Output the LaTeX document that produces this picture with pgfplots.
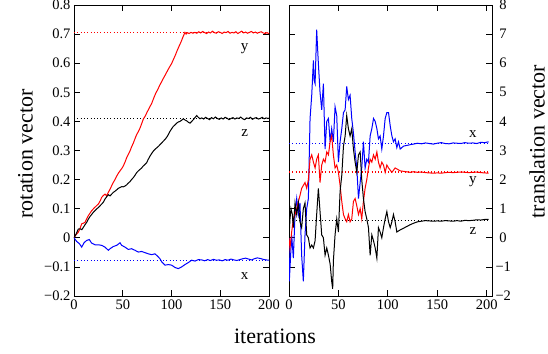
\documentclass[border=0pt]{standalone}
\usepackage{fontspec}
\setmainfont{Liberation Serif}
\usepackage{pgfplots}
\pgfplotsset{compat=1.18}
\begin{document}
\begin{tikzpicture}
\pgfplotsset{
  every axis/.append style={
    scale only axis, height=291pt,
    tick align=inside, major tick length=6pt,
    axis line style={line width=0.75pt},
    every tick/.style={line width=0.75pt, black},
    tick label style={font=\fontsize{14.5}{14.5}\selectfont},
    label style={font=\fontsize{22}{22}\selectfont},
    xtick={0,50,100,150,200},
    xtick pos=both, ytick pos=both,
    /pgf/number format/assume math mode=true,
  },
  curve/.style={line width=1pt},
  ref/.style={line width=1.1pt, dash pattern=on 1pt off 2.3pt},
}
% ---------------- left axis ----------------
\begin{axis}[at={(0,0)}, anchor=south west, width=195pt,
  xmin=0, xmax=200, ymin=-0.2, ymax=0.8,
  ytick={-0.2,-0.1,0,0.1,0.2,0.3,0.4,0.5,0.6,0.7,0.8},
  yticklabels={−0.2,−0.1,0,0.1,0.2,0.3,0.4,0.5,0.6,0.7,0.8},
  xticklabel pos=left, yticklabel pos=left,
  ylabel={rotation vector},
  ylabel style={at={(axis description cs:-0.249,0.488)}, anchor=center},
  xlabel={iterations},
  xlabel style={at={(axis description cs:1.031,-0.137)}, anchor=center},
]
\addplot[ref, red] coordinates {(0,0.706) (200,0.706)};
\addplot[ref, black] coordinates {(0,0.411) (200,0.411)};
\addplot[ref, blue] coordinates {(0,-0.077) (200,-0.077)};
% y (red)
\addplot[curve, red] coordinates {
(0,0) (2,0.01) (4.4,0.019) (6,0.03) (7.9,0.048) (9.5,0.05) (11.3,0.053) (13,0.065) (14.7,0.076) (16.5,0.085) (18.1,0.093) (20,0.1) (21.5,0.105) (23,0.11) (25,0.116) (27,0.128) (28.4,0.139) (30,0.145) (31.8,0.15) (33.5,0.144) (35,0.155) (37,0.167) (38.5,0.178) (40.3,0.19) (42,0.2) (43.8,0.212) (45.5,0.222) (47.2,0.23) (49,0.238) (50.6,0.247) (52.3,0.26) (54,0.275) (55.7,0.287) (57.4,0.298) (59,0.312) (60.9,0.326) (62.5,0.34) (64.3,0.355) (66,0.365) (67.7,0.377) (69.5,0.393) (71.1,0.408) (73,0.418) (75,0.432) (77,0.445) (79.7,0.462) (82,0.482) (84,0.498) (86,0.51) (88,0.525) (90,0.537) (92,0.55) (94,0.562) (96,0.575) (98,0.587) (100,0.598) (102,0.613) (104,0.628) (106,0.645) (108,0.66) (110,0.675) (112,0.692) (113.8,0.706) (115,0.7) (116.5,0.705) (118,0.702) (120,0.706) (122,0.703)
(124,0.706) (126,0.703) (128,0.708) (130,0.704) (132,0.709) (134,0.705) (136,0.702) (138,0.707) (140,0.704) (142,0.71) (144,0.705) (146,0.703) (148,0.708) (150,0.706) (152,0.702) (154,0.707) (156,0.705) (158,0.709) (160,0.703) (162,0.706) (164,0.704) (166,0.708) (168,0.702) (170,0.706) (172,0.71) (174,0.704) (176,0.707) (178,0.703) (180,0.706) (182,0.709) (184,0.704) (186,0.707) (188,0.703) (190,0.706) (192,0.708) (194,0.704) (196,0.702) (198,0.705) (200,0.701)
};
% z (black)
\addplot[curve, black] coordinates {
(0,0) (2,0.012) (4.4,0.03) (6.2,0.031) (8,0.028) (9.6,0.036) (11.3,0.045) (13,0.053) (14.7,0.064) (16.4,0.073) (18.1,0.08) (19.8,0.0875) (21.5,0.093) (23.2,0.099) (25,0.104) (26.7,0.11) (28.4,0.116) (30,0.122) (31.8,0.133) (33.5,0.141) (35.2,0.148) (37,0.144) (38.6,0.15) (40.3,0.156) (42,0.16) (43.8,0.165) (45.5,0.17) (47.2,0.173) (49,0.176) (50.6,0.175) (52.3,0.178) (54,0.182) (55.7,0.188) (57.4,0.193) (59,0.2) (60.9,0.207) (62.6,0.215) (64.3,0.224) (66,0.23) (67.7,0.235) (69.4,0.24) (71.1,0.247) (72.8,0.252) (74.5,0.258) (76.2,0.27) (78,0.281) (79.7,0.29) (81.4,0.298) (83.1,0.304) (84.8,0.309) (86.5,0.314) (88.2,0.32) (89.9,0.326) (91.6,0.332) (93.3,0.338) (95,0.345) (96.8,0.355) (98.5,0.366) (100.2,0.375) (101.9,0.383) (103.6,0.388) (105.3,0.394) (107,0.398) (108.7,0.4) (110.4,0.404) (112.1,0.409) (113.8,0.405) (115.6,0.402) (117.3,0.397) (119,0.394) (120.7,0.4) (122.4,0.406) (124.1,0.413) (125.8,0.42) (127.5,0.414) (129.2,0.409)
(131,0.412) (133,0.408) (135,0.414) (137,0.41) (139,0.406) (141,0.413) (143,0.409) (145,0.415) (147,0.41) (149,0.407) (151,0.412) (153,0.408) (155,0.414) (157,0.411) (159,0.406) (161,0.41) (163,0.413) (165,0.408) (167,0.412) (169,0.41) (171,0.415) (173,0.409) (175,0.406) (177,0.412) (179,0.41) (181,0.414) (183,0.407) (185,0.411) (187,0.413) (189,0.408) (191,0.41) (193,0.414) (195,0.409) (197,0.412) (199,0.41) (200,0.411)
};
% x (blue)
\addplot[curve, blue] coordinates {
(0,0) (2.7,-0.0125) (5.5,-0.02) (7.9,-0.032) (10.3,-0.017) (13,-0.009) (15.7,-0.006) (18,-0.018) (21.5,-0.024) (25,-0.024) (28.4,-0.026) (31.8,-0.032) (35.2,-0.043) (37,-0.0375) (40.3,-0.03) (43.8,-0.026) (47.2,-0.017) (48.9,-0.026) (52.3,-0.032) (55.7,-0.04) (59.1,-0.0375) (62.6,-0.043) (66,-0.049) (69.4,-0.047) (72.8,-0.051) (76.2,-0.055) (79.7,-0.058) (83,-0.055) (85.5,-0.0625) (88.2,-0.072) (90,-0.083) (93.3,-0.094) (96.8,-0.092) (100.2,-0.094) (103.6,-0.102) (107,-0.106) (110.4,-0.1) (113.8,-0.092) (117.3,-0.085) (120.7,-0.077) (124.1,-0.08) (127.5,-0.075)
(131,-0.076) (134,-0.079) (137,-0.075) (140,-0.078) (143,-0.074) (146,-0.077) (149,-0.076) (152,-0.079) (155,-0.075) (158,-0.077) (161,-0.073) (164,-0.076) (167,-0.078) (170,-0.075) (173,-0.072) (176,-0.07) (179,-0.073) (182,-0.076) (185,-0.072) (188,-0.069) (191,-0.071) (194,-0.074) (197,-0.076) (200,-0.077)
};
\node[font=\fontsize{15}{15}\selectfont] at (axis cs:175,0.649) {y};
\node[font=\fontsize{15}{15}\selectfont] at (axis cs:175,0.36) {z};
\node[font=\fontsize{15}{15}\selectfont] at (axis cs:175,-0.131) {x};
\end{axis}
% ---------------- right axis ----------------
\begin{axis}[at={(215pt,0)}, anchor=south west, width=203pt,
  xmin=0, xmax=205.4, ymin=-2, ymax=8,
  ytick={-2,-1,0,1,2,3,4,5,6,7,8},
  yticklabels={−2,−1,0,1,2,3,4,5,6,7,8},
  xticklabel pos=left, yticklabel pos=right,
  yticklabel style={text width=1.1em, align=right},
  ylabel={translation vector},
  ylabel style={at={(axis description cs:1.222,0.531)}, anchor=center, rotate=0},
]
\addplot[ref, blue] coordinates {(0,3.23) (202,3.23)};
\addplot[ref, red] coordinates {(0,2.26) (202,2.26)};
\addplot[ref, black] coordinates {(0,0.6) (202,0.6)};
% x (blue)
\addplot[curve, blue] coordinates {
(0,0) (0.3,-1.5) (2.7,0.1) (4.4,-0.7) (6.1,0.8) (7.8,1.35) (9.5,0.8) (11.1,1.2) (12.8,-0.6) (14.5,-1.5) (16.2,0.1) (17.9,1.0) (19.6,1.35) (21.3,4.1) (23,4.9) (24.7,6.1) (25.5,5.4) (26.4,5.3) (28,7.15) (29.7,6.0) (31.4,5.0) (33.1,4.4) (34.8,5.3) (36.5,3.05) (38.2,4.0) (39.9,4.1) (41.6,3.3) (43.2,3.75) (44.9,3.3) (46.6,4.5) (48.3,4.2) (50,2.6) (51.7,3.3) (53.4,3.75) (55.1,4.3) (56.8,4.4) (58.4,5.2) (60.1,4.75) (61.8,4.9) (63.5,4.1) (65.2,3.6) (66.9,2.95) (68.6,2.4) (70.3,1.35) (72,1.9) (73.6,2.4) (75.3,3.3) (77,2.4) (78.7,2.7) (80.4,2.6) (82.1,3.5) (83.8,3.75) (85.5,4.1) (87.2,4.0) (88.9,3.75) (90.5,3.4) (92.2,3.5) (93.9,3.05) (95.6,3.5) (97.3,4.1) (99,4.3) (100.7,4.3) (102.4,3.85) (104.1,3.5) (105.7,3.3) (107.4,3.4) (109.1,3.1) (110.8,3.3) (112.5,3.05) (115.9,3.15) (122.6,3.2)
(126,3.22) (130,3.25) (134,3.23) (138,3.26) (142,3.24) (146,3.22) (150,3.25) (154,3.27) (158,3.24) (162,3.23) (166,3.26) (170,3.25) (174,3.24) (178,3.27) (182,3.25) (186,3.26) (190,3.24) (194,3.28) (198,3.27) (202,3.3)
};
% y (red)
\addplot[curve, red] coordinates {
(0,0) (1,-0.35) (2.7,0.2) (4.4,0.65) (6.1,0.8) (7.8,1.0) (9.5,1.25) (11.1,1.45) (12.8,1.7) (14.5,1.8) (16.2,1.9) (17.9,1.7) (19.6,2.0) (21.3,2.7) (23,2.85) (24.7,2.6) (26.4,2.4) (28,2.7) (29.7,2.85) (31.4,1.9) (33.1,2.5) (34.8,2.7) (36.5,2.6) (38.2,2.95) (39.9,2.85) (41.6,3.3) (43.2,3.5) (44.9,2.85) (46.6,2.4) (48.3,2.5) (50,2.25) (51.7,1.8) (53.4,1.25) (55.1,0.8) (56.8,0.65) (58.4,0.55) (60.1,0.8) (61.8,0.55) (63.5,0.65) (65.2,1.25) (66.9,1.35) (68.6,1.1) (70.3,0.8) (72,1.0) (73.6,0.65) (75.3,1.25) (77,1.7) (78.7,2.0) (80.4,2.4) (82.1,2.7) (83.8,2.6) (85.5,2.85) (87.2,2.7) (88.9,2.95) (90.5,2.6) (92.2,2.4) (93.9,2.6) (95.6,2.5) (97.3,2.25) (99,2.5) (100.7,2.4) (104.1,2.25) (107.4,2.4) (112.5,2.3) (122.6,2.25)
(126,2.27) (130,2.25) (134,2.26) (138,2.24) (142,2.23) (146,2.22) (150,2.23) (154,2.22) (158,2.24) (162,2.25) (166,2.24) (170,2.25) (174,2.26) (178,2.25) (182,2.24) (186,2.25) (190,2.26) (194,2.24) (198,2.23) (202,2.22)
};
% z (black)
\addplot[curve, black] coordinates {
(0,0) (1,0.65) (2,1.0) (3.4,0.8) (4.4,0.35) (6.1,1.2) (7.8,0.8) (9.5,1.2) (11.1,0.55) (12.8,0.35) (14.5,1.0) (16.2,1.2) (17.9,0.1) (19.6,0.0) (21.3,-0.35) (23,-0.25) (24.7,-0.35) (26.4,-0.1) (28,0.8) (29.7,1.7) (31.4,0.9) (33.1,0.1) (34.8,0.0) (36.5,-0.6) (38.2,-0.35) (39.9,-0.6) (41.6,-0.9) (43.2,-1.5) (44.2,-1.75) (44.9,-0.8) (46.6,0.1) (48.3,0.65) (50,0.2) (51.7,1.6) (53.4,2.15) (55.1,3.15) (56.8,3.5) (58.4,4.2) (60.1,3.75) (61.8,3.5) (63.5,3.75) (65.2,3.05) (66.9,2.6) (68.6,2.25) (70.3,2.85) (72,2.95) (73.6,2.0) (75.3,1.35) (77,0.9) (78.7,0.65) (80.4,0.35) (82.1,-0.6) (83.8,0.1) (85.5,-0.1) (87.2,-0.35) (88.9,-0.7) (90.5,0.35) (92.2,0.2) (93.9,0.0) (95.6,0.35) (97.3,0.65) (99,0.9) (100.7,0.55) (102.4,0.35) (104.1,0.55) (105.7,0.8) (107.4,0.55) (109.1,0.2) (112.5,0.27) (115.9,0.33) (122.6,0.45)
(126,0.5) (130,0.55) (134,0.57) (138,0.59) (142,0.58) (146,0.57) (150,0.58) (154,0.57) (158,0.59) (162,0.58) (166,0.57) (170,0.59) (174,0.57) (178,0.6) (182,0.59) (186,0.6) (190,0.62) (194,0.61) (198,0.63) (202,0.63)
};
\node[font=\fontsize{15}{15}\selectfont] at (axis cs:186,3.57) {x};
\node[font=\fontsize{15}{15}\selectfont] at (axis cs:186,1.92) {y};
\node[font=\fontsize{15}{15}\selectfont] at (axis cs:186,0.24) {z};
\end{axis}
\pgfresetboundingbox
\path (-74pt,-57pt) rectangle (474pt,296pt);
\end{tikzpicture}
\end{document}
